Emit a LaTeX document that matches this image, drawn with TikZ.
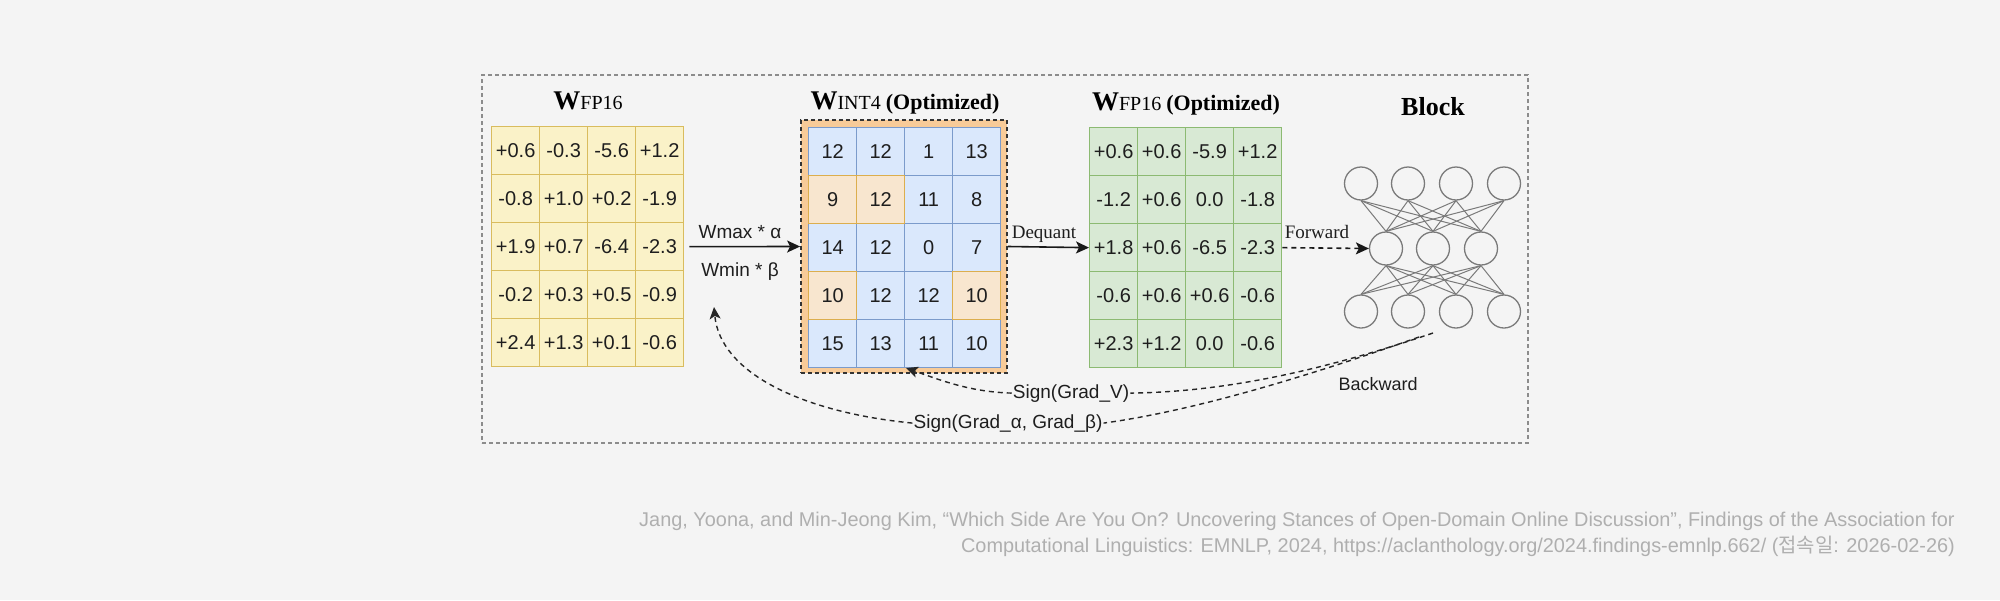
\documentclass[tikz,border=0pt]{standalone}
\usepackage{fontspec}
\setmainfont{Liberation Serif}
\setsansfont{Liberation Sans}
\newfontfamily\krfont{Noto Sans CJK KR}
\usetikzlibrary{arrows.meta}
\definecolor{bgc}{HTML}{F4F4F4}
\definecolor{yfill}{HTML}{FAF2C8}
\definecolor{ydraw}{HTML}{D9BC5E}
\definecolor{bfill}{HTML}{DAE8FC}
\definecolor{bdraw}{HTML}{7B9BCB}
\definecolor{ofill}{HTML}{F8E6CF}
\definecolor{odraw}{HTML}{DCAE4E}
\definecolor{orim}{HTML}{F8CB98}
\definecolor{gfill}{HTML}{D8E9D4}
\definecolor{gdraw}{HTML}{8CBA72}
\definecolor{txt}{HTML}{1E1E1E}
\definecolor{nn}{HTML}{7A7A7A}
\definecolor{capc}{HTML}{AFAFAF}
\definecolor{framec}{HTML}{8C8C8C}
\tikzset{
  cellbase/.style={rectangle, draw, line width=1.3pt, minimum width=48pt, minimum height=48pt,
    inner sep=0pt, anchor=north west, text=txt, font=\sffamily\fontsize{20}{24}\selectfont},
  ycell/.style={cellbase, fill=yfill, draw=ydraw},
  bcell/.style={cellbase, fill=bfill, draw=bdraw},
  ocell/.style={cellbase, fill=ofill, draw=odraw},
  gcell/.style={cellbase, fill=gfill, draw=gdraw},
  orbox/.style={rectangle, fill=orim, draw=black!80, line width=1.8pt, dash pattern=on 4pt off 3pt,
    minimum width=206pt, minimum height=253pt, inner sep=0pt},
  framebox/.style={rectangle, draw=framec, line width=1.1pt, dash pattern=on 4pt off 3pt,
    minimum width=1046pt, minimum height=368pt, inner sep=0pt},
  neuron/.style={circle, draw=nn, line width=1.3pt, fill=bgc, minimum size=33pt, inner sep=0pt},
  nnline/.style={draw=nn, line width=1pt},
  arr/.style={-{Stealth[length=13pt,width=12pt,inset=3pt]}, line width=1.6pt, draw=black!90},
  darr/.style={arr, dash pattern=on 5pt off 4pt},
  bwline/.style={draw=black!85, line width=1.4pt, dash pattern=on 5pt off 4pt},
  bwarr/.style={bwline, -{Stealth[length=12pt,width=11pt,inset=3pt]}},
  title/.style={anchor=base, inner sep=0pt, text=black},
  slabel/.style={anchor=base, inner sep=1pt, text=txt, font=\sffamily\fontsize{19}{22}\selectfont},
  rlabel/.style={anchor=base, inner sep=1pt, text=txt, font=\fontsize{19}{22}\selectfont},
  caption/.style={anchor=base east, inner sep=0pt, text=capc, font=\sffamily\fontsize{19.9}{22}\selectfont}
}
\begin{document}
\begin{tikzpicture}[x=1pt,y=-1pt]
\useasboundingbox (0,0) rectangle (2000,600);
\fill[bgc] (0,0) rectangle (2000,600);

% outer frame
\node[framebox] (frame) at (1005,259) {};

% titles
\node[title] (t-y) at (588,109) {\fontsize{27}{30}\selectfont\textbf{W}\fontsize{20}{24}\selectfont FP16};
\node[title] (t-b) at (905,109) {\fontsize{27}{30}\selectfont\textbf{W}\fontsize{20}{24}\selectfont INT4 \fontsize{22}{26}\selectfont\textbf{(Optimized)}};
\node[title] (t-g) at (1186,110) {\fontsize{27}{30}\selectfont\textbf{W}\fontsize{20}{24}\selectfont FP16 \fontsize{22}{26}\selectfont\textbf{(Optimized)}};
\node[title] (t-n) at (1433,115) {\fontsize{26}{30}\selectfont\textbf{Block}};

% yellow grid
\foreach \row [count=\r from 0] in {{+0.6,-0.3,-5.6,+1.2},{-0.8,+1.0,+0.2,-1.9},{+1.9,+0.7,-6.4,-2.3},{-0.2,+0.3,+0.5,-0.9},{+2.4,+1.3,+0.1,-0.6}}{
  \foreach \v [count=\c from 0] in \row {
    \node[ycell] (y-\r-\c) at ({491+48*\c},{126+48*\r}) {\v};
  }
}

% INT4 box
\node[orbox] (intbox) at (904,246.5) {};
\foreach \pass in {0,1}{
\foreach \row [count=\r from 0] in {{12,12,1,13},{9,12,11,8},{14,12,0,7},{10,12,12,10},{15,13,11,10}}{
  \foreach \v [count=\c from 0] in \row {
    \pgfmathtruncatemacro\isor{((\r==1)&&(\c<2))||((\r==3)&&((\c==0)||(\c==3)))}
    \ifnum\isor=\pass
      \ifnum\isor=1
        \node[ocell] (b-\r-\c) at ({808+48*\c},{127+48*\r}) {\v};
      \else
        \node[bcell] (b-\r-\c) at ({808+48*\c},{127+48*\r}) {\v};
      \fi
    \fi
  }
}
}

% green grid
\foreach \row [count=\r from 0] in {{+0.6,+0.6,-5.9,+1.2},{-1.2,+0.6,0.0,-1.8},{+1.8,+0.6,-6.5,-2.3},{-0.6,+0.6,+0.6,-0.6},{+2.3,+1.2,0.0,-0.6}}{
  \foreach \v [count=\c from 0] in \row {
    \node[gcell] (g-\r-\c) at ({1089+48*\c},{127+48*\r}) {\v};
  }
}

% neural network
\foreach \x [count=\i] in {1361,1408,1456,1504}{
  \node[neuron] (nt\i) at (\x,183.5) {};
  \node[neuron] (nb\i) at (\x,311.5) {};
}
\foreach \x [count=\j] in {1386,1433,1481}{
  \node[neuron] (nm\j) at (\x,248.5) {};
}
\foreach \i in {1,...,4}{
  \foreach \j in {1,2,3}{
    \draw[nnline] (nt\i.south) -- (nm\j.north);
    \draw[nnline] (nm\j.south) -- (nb\i.north);
  }
}

% forward arrows
\draw[arr] ([xshift=5pt]y-2-3.east) -- (intbox.west);
\node[slabel] (lmax) at (740,238) {Wmax * α};
\node[slabel] (lmin) at (740,276) {Wmin * β};
\draw[arr] (intbox.east) -- (g-2-0.west);
\node[rlabel] (ldeq) at (1044,238) {Dequant};
\draw[darr] (g-2-3.east) -- (nm1.west);
\node[rlabel] (lfwd) at (1317,238) {Forward};

% backward
\coordinate (bA) at (1433,333);
\coordinate (bB) at (1419,337);
\coordinate (gvT) at (906,368);
\coordinate (abT) at (714,307);
\node[slabel] (lgv) at (1071,398) {Sign(Grad\_V)};
\node[slabel] (lab) at (1008,428) {Sign(Grad\_α, Grad\_β)};
\node[slabel, font=\sffamily\fontsize{18}{22}\selectfont] (lbw) at (1378,390) {Backward};
\draw[bwline] (bA) .. controls (1330,368) and (1230,392) .. (lgv.east);
\draw[bwarr] (lgv.west) .. controls (970,392) and (940,380) .. (gvT);
\draw[bwline] (bB) .. controls (1320,372) and (1200,410) .. (lab.east);
\draw[bwarr] (lab.west) .. controls (800,412) and (720,372) .. (abT);

% caption
\node[caption] (cap1) at (1955,526) {Jang, Yoona, and Min-Jeong Kim, “Which Side Are You On? Uncovering Stances of Open-Domain Online Discussion”, Findings of the Association for};
\node[caption] (cap2) at (1955,552) {Computational Linguistics: EMNLP, 2024, https://aclanthology.org/2024.findings-emnlp.662/ ({\krfont 접속일}: 2026-02-26)};
\end{tikzpicture}
\end{document}
